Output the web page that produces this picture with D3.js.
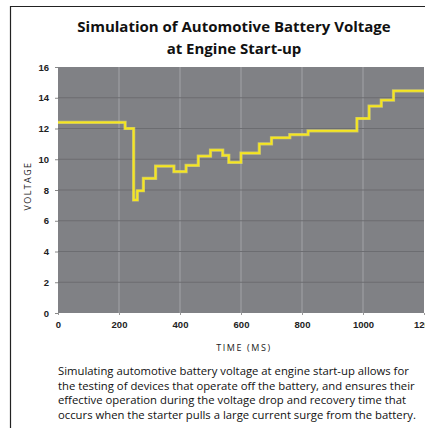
<!DOCTYPE html>
<html>
<head>
<meta charset="utf-8">
<style>
  body { margin: 0; background: #fff; }
  svg { display: block; font-family: "Open Sans", "Noto Sans", sans-serif; }
  .tick text { font-size: 9.5px; font-weight: bold; fill: #222; }
  .axis .domain { display: none; }
</style>
</head>
<body>
<svg width="425" height="428"></svg>
<script src="https://d3js.org/d3.v7.min.js"></script>
<script>
// step points: time (ms) where the level starts, voltage of that level
let times    = [0, 220, 248, 260, 280, 320, 380, 420, 460, 500, 540, 560, 600, 660, 700, 760, 820, 980, 1020, 1060, 1100, 1200]
let voltages = [12.4, 12.0, 7.35, 7.95, 8.75, 9.55, 9.2, 9.6, 10.2, 10.6, 10.25, 9.8, 10.4, 11.0, 11.4, 11.6, 11.85, 12.65, 13.45, 13.85, 14.45, 14.45]
let xTicks = [0, 200, 400, 600, 800, 1000, 1200]
let yTicks = [0, 2, 4, 6, 8, 10, 12, 14, 16]

let titleLines = ["Simulation of Automotive Battery Voltage", "at Engine Start-up"]
let captionLines = [
  "Simulating automotive battery voltage at engine start-up allows for",
  "the testing of devices that operate off the battery, and ensures their",
  "effective operation during the voltage drop and recovery time that",
  "occurs when the starter pulls a large current surge from the battery."
]

let margin = { top: 67, right: 1, bottom: 115, left: 58 }
let width = 425, height = 428

let svg = d3.select("svg")

// page frame
svg.append("path")
  .attr("d", `M10.5,${height} V6.5 H${width}`)
  .attr("fill", "none")
  .attr("stroke", "#222")
  .attr("stroke-width", 1.2)

let x = d3.scaleLinear().domain([0, 1200]).range([margin.left, width - margin.right])
let y = d3.scaleLinear().domain([0, 16]).range([height - margin.bottom, margin.top])

// plot background
svg.append("rect")
  .attr("x", x(0)).attr("y", y(16))
  .attr("width", x(1200) - x(0)).attr("height", y(0) - y(16))
  .attr("fill", "#808185")

// vertical gridlines (lighter)
svg.append("g")
  .selectAll("line")
  .data(xTicks.filter(d => d > 0 && d < 1200))
  .join("line")
  .attr("x1", d => x(d)).attr("x2", d => x(d))
  .attr("y1", y(16)).attr("y2", y(0))
  .attr("stroke", "#a2a3a7").attr("stroke-width", 1)

// horizontal gridlines (darker)
svg.append("g")
  .selectAll("line")
  .data(yTicks.filter(d => d > 0 && d < 16))
  .join("line")
  .attr("x1", x(0)).attr("x2", x(1200))
  .attr("y1", d => y(d)).attr("y2", d => y(d))
  .attr("stroke", "#6c6d71").attr("stroke-width", 1.2)

// axes
svg.append("g")
  .attr("class", "axis")
  .attr("transform", `translate(0,${y(0)})`)
  .call(d3.axisBottom(x).tickValues(xTicks).tickFormat(d3.format("d")).tickSize(2).tickPadding(6))
  .call(g => g.selectAll(".tick line").attr("stroke", "#999"))

svg.append("g")
  .attr("class", "axis")
  .attr("transform", `translate(${x(0)},0)`)
  .call(d3.axisLeft(y).tickValues(yTicks).tickSize(3).tickPadding(6))
  .call(g => g.selectAll(".tick line").attr("stroke", "#888"))

// step line
let pts = times.map((t, i) => [t, voltages[i]])
let line = d3.line().x(d => x(d[0])).y(d => y(d[1])).curve(d3.curveStepAfter)

svg.append("path")
  .datum(pts)
  .attr("d", line)
  .attr("fill", "none")
  .attr("stroke", "#e6de6a")
  .attr("stroke-width", 3.2)
  .attr("stroke-opacity", 0.7)

svg.append("path")
  .datum(pts)
  .attr("d", line)
  .attr("fill", "none")
  .attr("stroke", "#f6e61e")
  .attr("stroke-width", 1.8)

// title
svg.append("g")
  .selectAll("text")
  .data(titleLines)
  .join("text")
  .attr("x", 234)
  .attr("y", (d, i) => 32 + i * 22)
  .attr("text-anchor", "middle")
  .style("font-size", "15px")
  .style("font-weight", "bold")
  .style("fill", "#111")
  .text(d => d)

// axis titles
svg.append("text")
  .attr("x", 244).attr("y", 351)
  .attr("text-anchor", "middle")
  .style("font-size", "9px")
  .style("letter-spacing", "1.6px")
  .style("fill", "#222")
  .text("TIME (MS)")

svg.append("text")
  .attr("transform", `translate(31,${(y(0) + y(16)) / 2 - 4}) rotate(-90)`)
  .attr("text-anchor", "middle")
  .style("font-size", "9px")
  .style("letter-spacing", "1.4px")
  .style("fill", "#222")
  .text("VOLTAGE")

// caption
svg.append("g")
  .selectAll("text")
  .data(captionLines)
  .join("text")
  .attr("x", 58)
  .attr("y", (d, i) => 375 + i * 14.5)
  .style("font-size", "11.3px")
  .style("fill", "#111")
  .text(d => d)
</script>
</body>
</html>
